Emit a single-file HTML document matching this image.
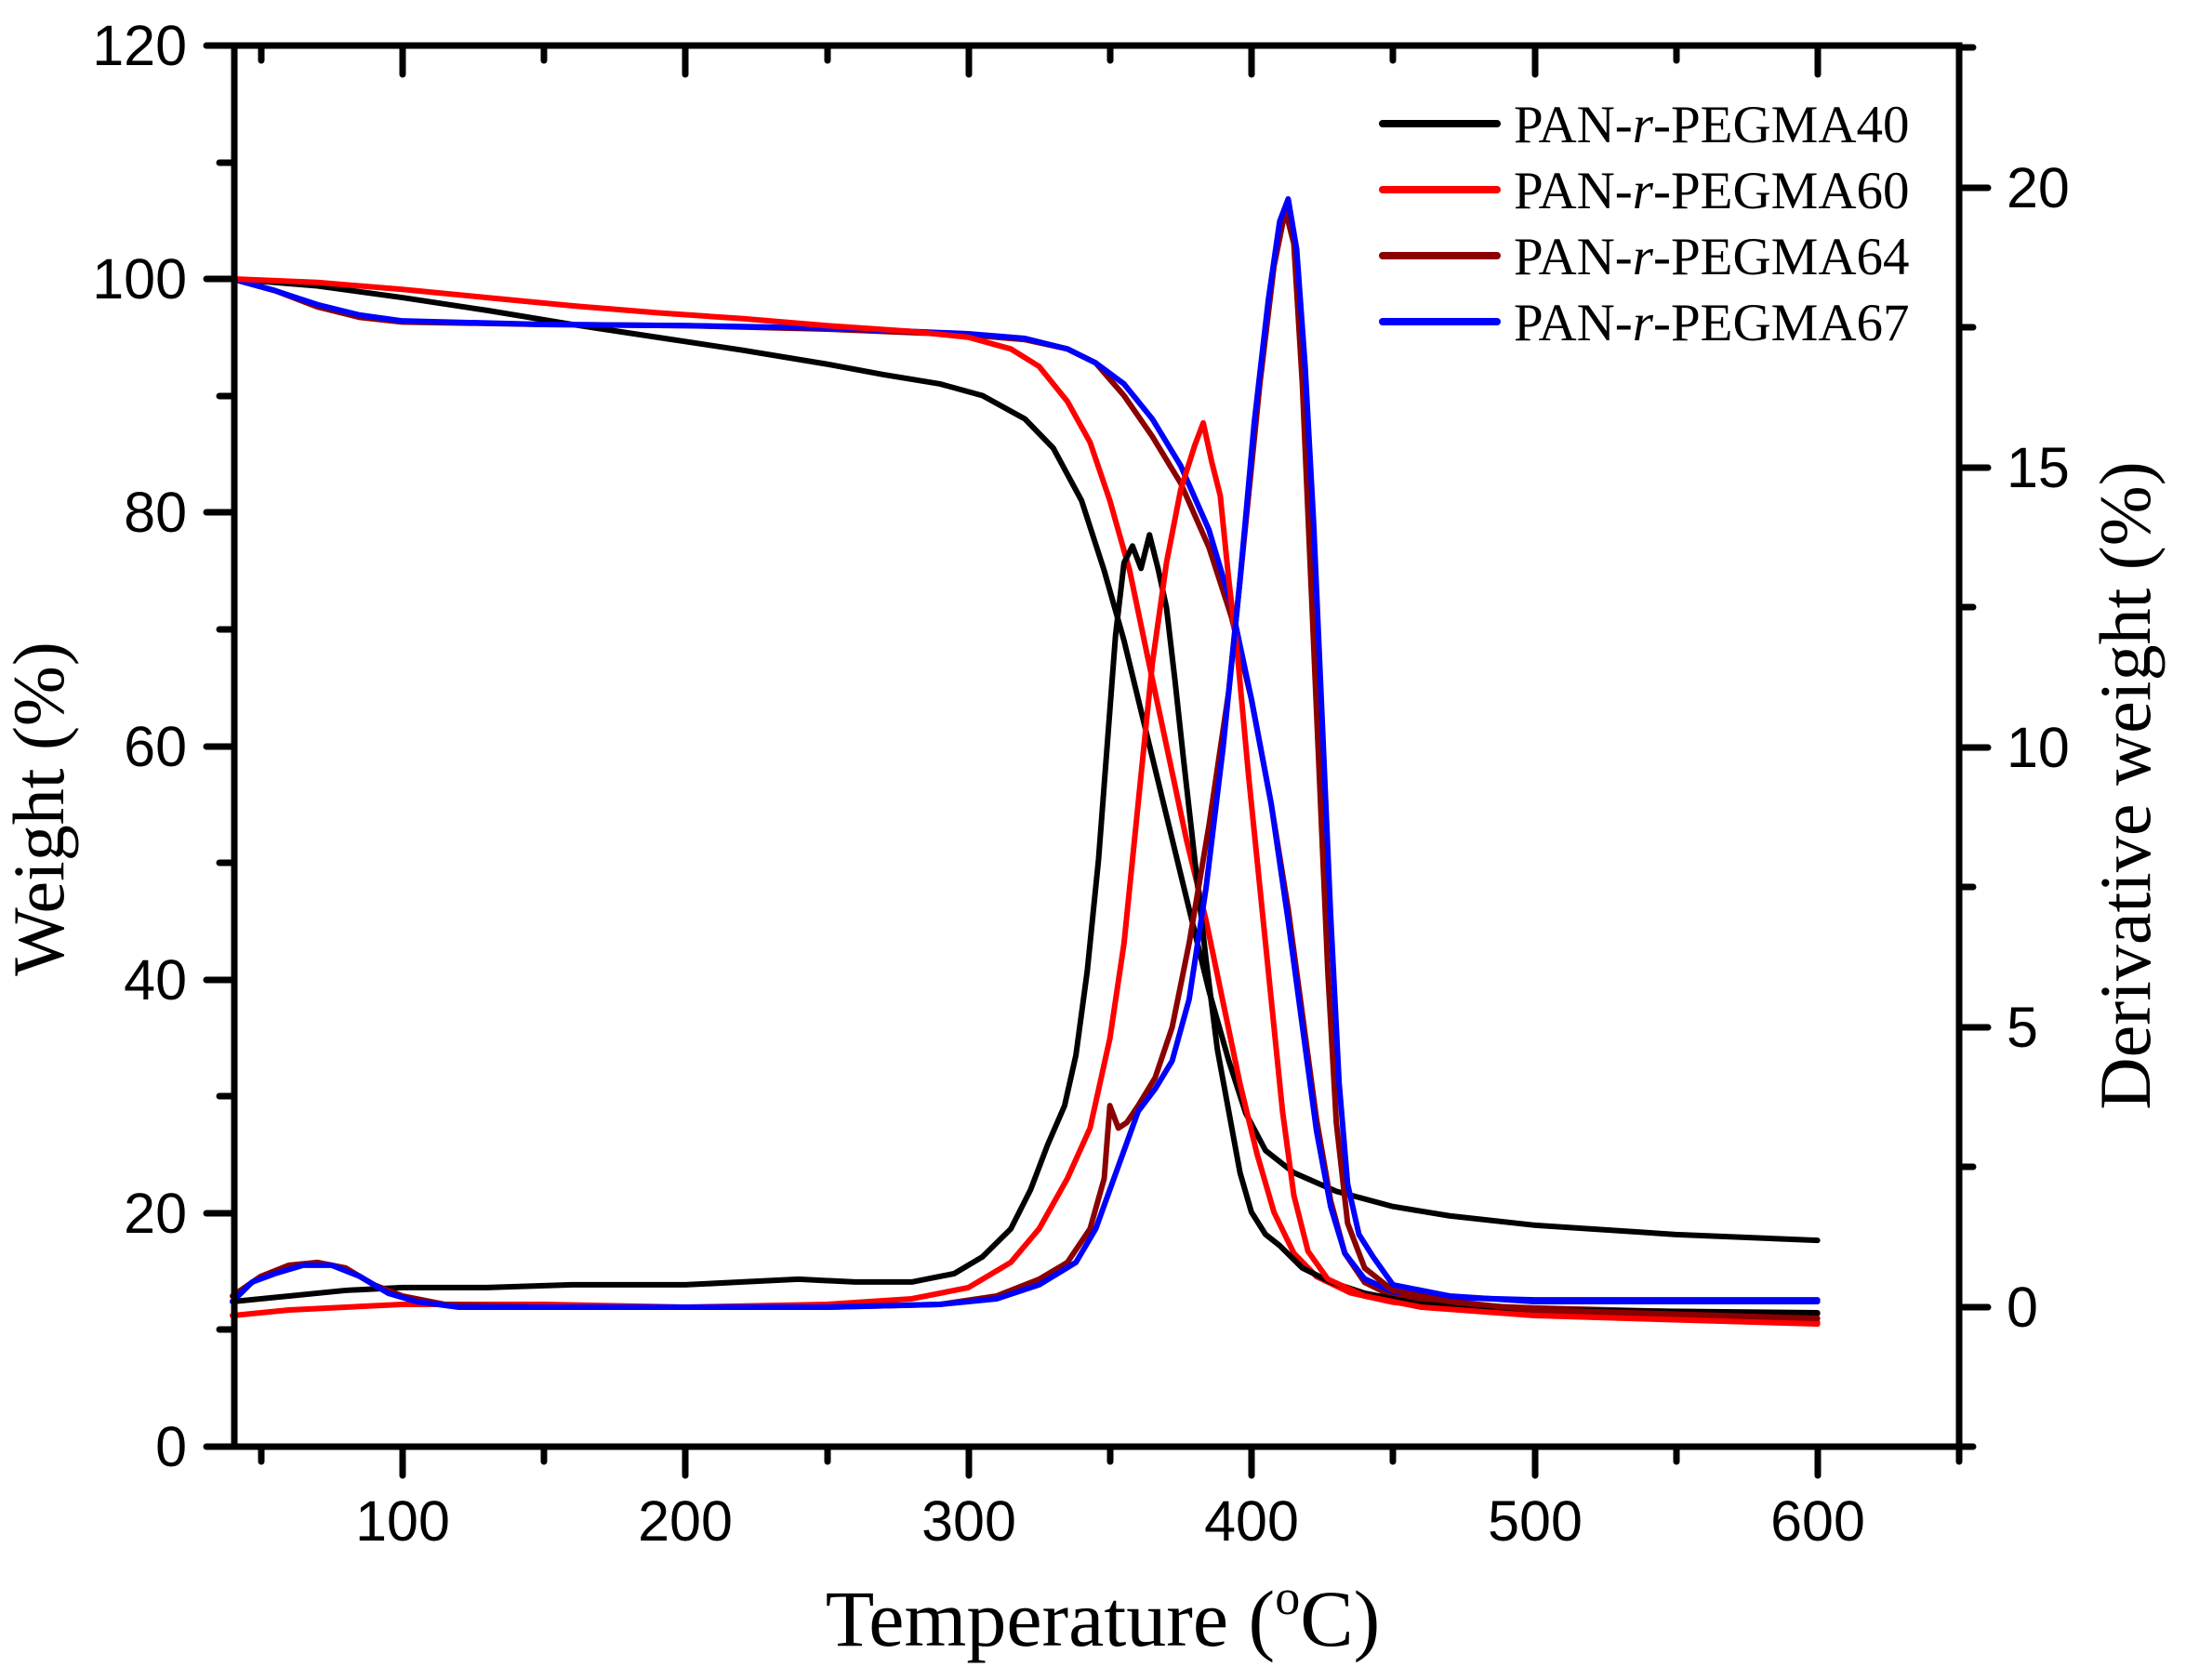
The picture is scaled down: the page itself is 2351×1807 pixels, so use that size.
<!DOCTYPE html>
<html><head><meta charset="utf-8"><style>
html,body{margin:0;padding:0;background:#fff}
svg{display:block}
text{font-family:"Liberation Sans",sans-serif}
.s{font-family:"Liberation Serif",serif}
</style></head><body>
<svg width="2351" height="1807" viewBox="0 0 2351 1807" xmlns="http://www.w3.org/2000/svg">
<g fill="none" stroke-linejoin="round" stroke-linecap="round">
<g transform="translate(250,1555) scale(3.044,-12.55) translate(-40,0)">
<polyline vector-effect="non-scaling-stroke" stroke="#000" stroke-width="6" points="40,100 70,99.4 100,98.4 130,97.3 160,96.1 190,95 220,93.9 250,92.7 270,91.8 290,91 305,90 320,88 330,85.5 340,81 348,75 355,69 362,62 370,54 378,46 385,39 392,33 398,28.5 405,25.3 415,23.4 430,21.8 450,20.5 470,19.7 500,18.9 550,18.1 600,17.6"/>
<polyline vector-effect="non-scaling-stroke" stroke="#8b0000" stroke-width="6" points="40,100 55,99 70,97.6 85,96.7 100,96.3 150,96.1 200,96 250,95.7 300,95.2 320,94.8 335,94 345,92.8 355,90 365,86.5 375,82.5 385,77 393,71 400,64 407,55 413,46 418,37 423,28 428,21 433,16.5 440,14 450,12.8 470,12.1 500,11.8 550,11.5 600,11.3"/>
<polyline vector-effect="non-scaling-stroke" stroke="#0000ff" stroke-width="6" points="40,100 55,99 70,97.8 85,96.9 100,96.4 150,96.1 200,96 250,95.8 300,95.3 320,94.9 335,94 345,92.8 355,91 365,88 375,84 385,78.5 393,72 400,64 407,55 413,45 418,36 423,27 428,20.5 433,16.5 440,14.3 450,13.2 470,12.7 500,12.5 550,12.5 600,12.5"/>
<polyline vector-effect="non-scaling-stroke" stroke="#ff0000" stroke-width="6" points="40,100 70,99.7 100,99.1 130,98.4 160,97.7 190,97.1 220,96.6 250,96 280,95.5 300,95 315,94 325,92.5 335,89.5 343,86 350,81 357,75 363,68 370,60 377,52 384,45 390,38 396,31 402,25 408,20 415,16.5 423,14.5 435,13.1 450,12.3 470,11.8 500,11.3 550,10.9 600,10.6"/>
</g>
<g transform="translate(250,1406) scale(3.044,-60.2) translate(-40,0)">
<polyline vector-effect="non-scaling-stroke" stroke="#000" stroke-width="6" points="40,0.1 60,0.2 80,0.3 100,0.35 130,0.35 160,0.4 200,0.4 220,0.45 240,0.5 260,0.45 280,0.45 295,0.6 305,0.9 315,1.4 322,2.1 328,2.9 334,3.6 338,4.5 342,6 346,8 349,10 352,12 355,13.3 358,13.6 361,13.2 364,13.8 367,13.2 370,12.5 373,11.2 376,9.8 380,8 384,6.2 388,4.6 392,3.5 396,2.4 400,1.7 405,1.3 410,1.1 418,0.7 428,0.45 440,0.25 460,0.05 500,-0.05 600,-0.1"/>
<polyline vector-effect="non-scaling-stroke" stroke="#ff0000" stroke-width="6" points="40,-0.15 60,-0.05 80,0 100,0.05 150,0.05 200,0 250,0.05 280,0.15 300,0.35 315,0.8 325,1.4 335,2.3 343,3.2 350,4.8 355,6.5 360,9 365,11.5 370,13.3 375,14.6 380,15.4 383,15.8 386,15.1 389,14.5 392,13 395,11.7 399,9.5 403,7.5 407,5.5 411,3.5 415,2 420,1 427,0.5 440,0.2 460,0 500,-0.15 600,-0.3"/>
<polyline vector-effect="non-scaling-stroke" stroke="#8b0000" stroke-width="6" points="40,0.2 50,0.55 60,0.75 70,0.8 80,0.7 90,0.4 100,0.2 115,0.05 150,0 200,0 250,0 290,0.05 310,0.2 325,0.5 335,0.8 343,1.4 348,2.3 350,3.6 353,3.2 356,3.3 360,3.6 366,4.1 372,5 378,6.5 385,8.6 392,11 398,14 403,16.5 408,18.6 412,19.6 415,19 418,16.5 421,13 424,9.5 427,6 430,3.3 434,1.5 440,0.7 450,0.3 470,0.1 500,-0.05 600,-0.2"/>
<polyline vector-effect="non-scaling-stroke" stroke="#0000ff" stroke-width="6" points="40,0.1 47,0.45 55,0.6 65,0.75 75,0.75 85,0.55 95,0.25 105,0.1 120,0 200,0 250,0 290,0.05 310,0.15 325,0.4 338,0.8 345,1.4 350,2.1 355,2.8 360,3.5 366,3.9 372,4.4 378,5.5 384,7.5 390,10 396,13 401,15.8 406,18 410,19.4 413,19.8 416,18.9 419,16.8 422,14 425,10.5 428,7 431,4 434,2.2 438,1.3 443,0.9 450,0.4 470,0.2 500,0.1 600,0.1"/>
</g>
</g>
<g stroke="#000" stroke-width="7" stroke-linecap="round" fill="none">
<rect x="252" y="49" width="1855" height="1507"/>
<path d="M252 1556H222 M252 1305H222 M252 1054H222 M252 803H222 M252 551H222 M252 300H222 M252 49H222
M252 1430H236 M252 1179H236 M252 928H236 M252 677H236 M252 426H236 M252 175H236"/>
<path d="M433 1556V1587 M737 1556V1587 M1042 1556V1587 M1346 1556V1587 M1651 1556V1587 M1955 1556V1587 M2107 1556V1572
M281 1556V1572 M585 1556V1572 M890 1556V1572 M1194 1556V1572 M1498 1556V1572 M1803 1556V1572"/>
<path d="M433 49V80 M737 49V80 M1042 49V80 M1346 49V80 M1651 49V80 M1955 49V80
M281 49V65 M585 49V65 M890 49V65 M1194 49V65 M1498 49V65 M1803 49V65"/>
<path d="M2107 1406H2138 M2107 1105H2138 M2107 804H2138 M2107 503H2138 M2107 202H2138
M2107 1556H2122 M2107 1255H2122 M2107 954H2122 M2107 653H2122 M2107 352H2122 M2107 51H2122"/>
</g>
<g font-size="61" text-anchor="end">
<text x="201" y="1577">0</text>
<text x="201" y="1326">20</text>
<text x="201" y="1075">40</text>
<text x="201" y="824">60</text>
<text x="201" y="572">80</text>
<text x="201" y="321">100</text>
<text x="201" y="70">120</text>
</g>
<g font-size="61" text-anchor="start">
<text x="2158" y="1427">0</text>
<text x="2158" y="1126">5</text>
<text x="2158" y="825">10</text>
<text x="2158" y="524">15</text>
<text x="2158" y="223">20</text>
</g>
<g font-size="61" text-anchor="middle">
<text x="433" y="1657">100</text>
<text x="737" y="1657">200</text>
<text x="1042" y="1657">300</text>
<text x="1346" y="1657">400</text>
<text x="1651" y="1657">500</text>
<text x="1955" y="1657">600</text>
</g>
<text class="s" x="1186" y="1770" font-size="86" text-anchor="middle">Temperature (<tspan font-size="54" dy="-34">o</tspan><tspan dy="34">C)</tspan></text>
<text class="s" font-size="78" text-anchor="middle" transform="translate(68,870) rotate(-90)">Weight (%)</text>
<text class="s" font-size="78" text-anchor="middle" transform="translate(2312,845) rotate(-90)">Derivative weight (%)</text>
<g stroke-width="8" stroke-linecap="round">
<line x1="1487" y1="133" x2="1610" y2="133" stroke="#000"/>
<line x1="1487" y1="204" x2="1610" y2="204" stroke="#ff0000"/>
<line x1="1487" y1="275" x2="1610" y2="275" stroke="#8b0000"/>
<line x1="1487" y1="346" x2="1610" y2="346" stroke="#0000ff"/>
</g>
<g class="s" font-size="57">
<text class="s" x="1628" y="153">PAN-<tspan font-style="italic">r</tspan>-PEGMA40</text>
<text class="s" x="1628" y="224">PAN-<tspan font-style="italic">r</tspan>-PEGMA60</text>
<text class="s" x="1628" y="295">PAN-<tspan font-style="italic">r</tspan>-PEGMA64</text>
<text class="s" x="1628" y="366">PAN-<tspan font-style="italic">r</tspan>-PEGMA67</text>
</g>
</svg>
</body></html>
